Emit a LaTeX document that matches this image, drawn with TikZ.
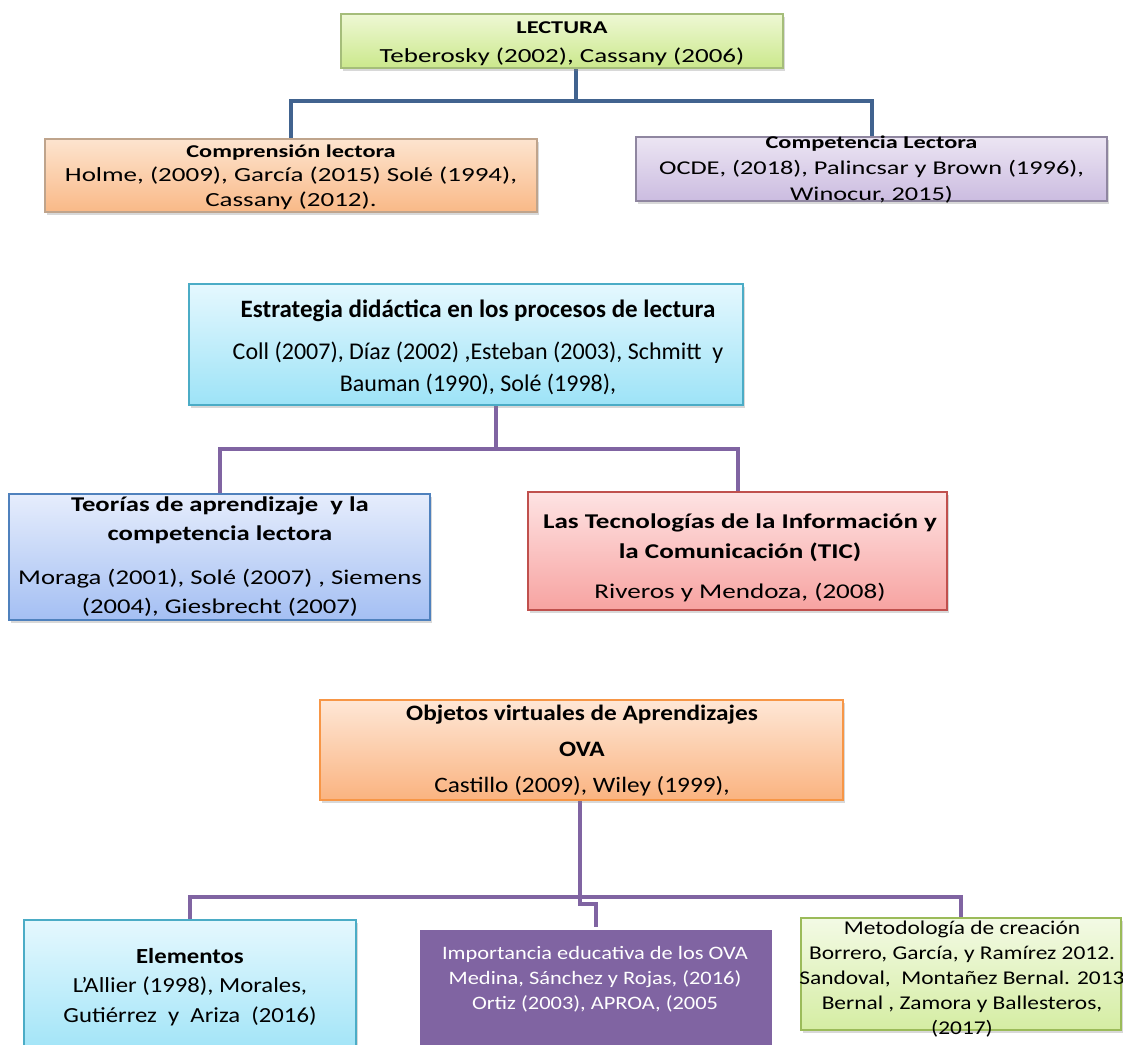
\documentclass[tikz,border=0pt]{standalone}
\usepackage{fontspec}
\setmainfont{Carlito}
\usetikzlibrary{shadows,calc}
\pgfdeclarelayer{bg}\pgfdeclarelayer{lines}
\pgfsetlayers{bg,lines,main}
\definecolor{lectTop}{HTML}{EEF8D4}\definecolor{lectBot}{HTML}{CBE88C}\definecolor{lectDraw}{HTML}{A5BD7A}
\definecolor{compTop}{HTML}{FDE4CF}\definecolor{compBot}{HTML}{F9B987}\definecolor{compDraw}{HTML}{BFA48C}
\definecolor{cpetTop}{HTML}{ECE5F3}\definecolor{cpetBot}{HTML}{CBBCE0}\definecolor{cpetDraw}{HTML}{8F86A0}
\definecolor{estrTop}{HTML}{E5F8FE}\definecolor{estrBot}{HTML}{9DE3F7}\definecolor{estrDraw}{HTML}{4BACC6}
\definecolor{teorTop}{HTML}{E6EDFC}\definecolor{teorBot}{HTML}{A4BFF3}\definecolor{teorDraw}{HTML}{4F81BD}
\definecolor{ticTop}{HTML}{FEE3E3}\definecolor{ticBot}{HTML}{F7A3A1}\definecolor{ticDraw}{HTML}{C0504D}
\definecolor{ovaTop}{HTML}{FEE7D6}\definecolor{ovaBot}{HTML}{FAB380}\definecolor{ovaDraw}{HTML}{F79646}
\definecolor{impFill}{HTML}{8064A2}
\definecolor{metTop}{HTML}{F3FAE5}\definecolor{metBot}{HTML}{D5EDA3}\definecolor{metDraw}{HTML}{9BBB59}
\definecolor{connBlue}{HTML}{41638F}\definecolor{connPurple}{HTML}{8064A2}
\tikzset{
  box/.style={rectangle, inner sep=0pt, line width=1.3pt,
    drop shadow={shadow xshift=2pt, shadow yshift=-3pt, opacity=0.3}},
  txt/.style={align=center, inner sep=0pt, text=black, transform shape},
  connB/.style={draw=connBlue, line width=4pt},
  connP/.style={draw=connPurple, line width=4pt},
}
\begin{document}
\begin{tikzpicture}[x=1pt,y=-1pt]
\useasboundingbox (0,0) rectangle (1123,1044);
\begin{pgfonlayer}{bg}
\fill[white] (0,0) rectangle (1123,1044);
\end{pgfonlayer}
\begin{scope}
\clip (0,0) rectangle (1123,1044);
% boxes
\node[box, draw=lectDraw, top color=lectTop, bottom color=lectBot, minimum width=442pt, minimum height=54pt] (lect) at (562,41) {};
\node[box, draw=compDraw, top color=compTop, bottom color=compBot, minimum width=492pt, minimum height=73pt] (comp) at (291,175.5) {};
\node[box, draw=cpetDraw, top color=cpetTop, bottom color=cpetBot, minimum width=471pt, minimum height=64pt] (cpet) at (871.5,169) {};
\node[box, draw=estrDraw, top color=estrTop, bottom color=estrBot, minimum width=554pt, minimum height=121pt] (estr) at (466,344.5) {};
\node[box, draw=teorDraw, top color=teorTop, bottom color=teorBot, minimum width=421pt, minimum height=126pt] (teor) at (219.5,557) {};
\node[box, draw=ticDraw, top color=ticTop, bottom color=ticBot, minimum width=419pt, minimum height=118pt] (tic) at (737.5,551) {};
\node[box, draw=ovaDraw, top color=ovaTop, bottom color=ovaBot, minimum width=523pt, minimum height=100pt] (ova) at (581.5,750) {};
\node[box, draw=estrDraw, top color=estrTop, bottom color=estrBot, minimum width=332pt, minimum height=140pt] (elem) at (190,990) {};
\node[box, draw=white, line width=3pt, fill=impFill, minimum width=355pt, minimum height=140pt] (imp) at (595.5,998) {};
\node[box, draw=metDraw, top color=metTop, bottom color=metBot, minimum width=320pt, minimum height=112pt] (met) at (961,974) {};
% texts
\node[txt, xscale=1.35, font={\fontsize{20}{29}\selectfont}] (lectT) at (562,44)
  {{\fontsize{18}{29}\selectfont\bfseries LECTURA}\\Teberosky (2002), Cassany (2006)};
\node[txt, xscale=1.35, font={\fontsize{20}{24.5}\selectfont}] (compT) at (291,177)
  {{\fontsize{18}{24.5}\selectfont\bfseries Comprensión lectora}\\Holme, (2009), García (2015) Solé (1994),\\Cassany (2012).};
\node[txt, xscale=1.35, font={\fontsize{19.5}{26}\selectfont}] (cpetT) at (871.5,170)
  {{\fontsize{18}{26}\selectfont\bfseries Competencia Lectora}\\OCDE, (2018), Palincsar y Brown (1996),\\Winocur, 2015)};
\node[txt, font={\fontsize{24}{32}\selectfont}] (estrT) at (478,347)
  {{\fontsize{25}{32}\selectfont\bfseries Estrategia didáctica en los procesos de lectura}\\[10pt]Coll (2007), Díaz (2002) ,Esteban (2003), Schmitt~ y\\Bauman (1990), Solé (1998),};
\node[txt, xscale=1.27, font={\fontsize{21}{29}\selectfont}] (teorT) at (220,557)
  {{\bfseries Teorías de aprendizaje~ y la}\\{\bfseries competencia lectora}\\[15pt]Moraga (2001), Solé (2007) , Siemens\\(2004), Giesbrecht (2007)};
\node[txt, xscale=1.29, font={\fontsize{21}{30}\selectfont}] (ticT) at (740,558)
  {{\bfseries Las Tecnologías de la Información y}\\{\bfseries la Comunicación (TIC)}\\[10pt]Riveros y Mendoza, (2008)};
\node[txt, xscale=1.15, font={\fontsize{22}{36}\selectfont}] (ovaT) at (582,751)
  {{\bfseries Objetos virtuales de Aprendizajes}\\{\bfseries OVA}\\Castillo (2009), Wiley (1999),};
\node[txt, xscale=1.15, font={\fontsize{21.5}{29.5}\selectfont}] (elemT) at (190,987)
  {{\bfseries Elementos}\\L’Allier (1998), Morales,\\Gutiérrez~ y~ Ariza~ (2016)};
\node[txt, xscale=1.18, text=white, font={\fontsize{19}{25}\selectfont}] (impT) at (595,979)
  {Importancia educativa de los OVA\\Medina, Sánchez y Rojas, (2016)\\Ortiz (2003), APROA, (2005};
\node[txt, xscale=1.2, font={\fontsize{19.5}{25}\selectfont}] (metT) at (962,979)
  {Metodología de creación\\Borrero, García, y Ramírez 2012.\\Sandoval,~ Montañez Bernal. 2013\\Bernal , Zamora y Ballesteros,\\(2017)};
\end{scope}
% connectors
\begin{pgfonlayer}{lines}
\coordinate (j1) at (576,101);
\draw[connB] ([xshift=14pt]lect.south) -- (j1);
\draw[connB] (comp.north) |- (j1) -| (cpet.north);
\coordinate (j2) at (496,449);
\draw[connP] ([xshift=30pt]estr.south) -- (j2);
\draw[connP] (teor.north) |- (j2) -| (tic.north);
\coordinate (j3) at (580,897);
\coordinate (j3b) at (582,904);
\draw[connP] ([xshift=-1.5pt]ova.south) -- (j3);
\draw[connP] (elem.north) |- (j3) -| (met.north);
\draw[connP] (j3) |- (j3b) -| (imp.north);
\end{pgfonlayer}
\end{tikzpicture}
\end{document}
